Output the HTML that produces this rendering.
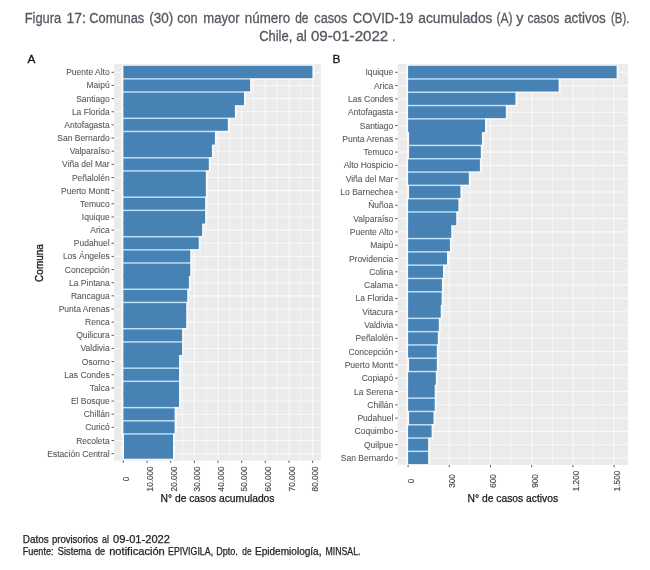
<!DOCTYPE html>
<html lang="es"><head><meta charset="utf-8"><title>Figura 17</title>
<style>html,body{margin:0;padding:0;background:#fff}body{width:650px;height:570px;overflow:hidden}svg{display:block;filter:blur(0.4px)}text{font-family:"Liberation Sans",sans-serif}</style>
</head><body>
<svg width="650" height="570" viewBox="0 0 650 570">
<rect width="650" height="570" fill="#fff"/>
<text y="22.8" font-size="13.8" fill="#555a61" stroke="#555a61" stroke-width="0.3"><tspan x="24.7" textLength="36.5" lengthAdjust="spacingAndGlyphs">Figura</tspan> <tspan x="66.5" textLength="19.3" lengthAdjust="spacingAndGlyphs">17:</tspan> <tspan x="89.2" textLength="55.1" lengthAdjust="spacingAndGlyphs">Comunas</tspan> <tspan x="149.3" textLength="24.0" lengthAdjust="spacingAndGlyphs">(30)</tspan> <tspan x="177.2" textLength="20.5" lengthAdjust="spacingAndGlyphs">con</tspan> <tspan x="203.3" textLength="36.4" lengthAdjust="spacingAndGlyphs">mayor</tspan> <tspan x="244.8" textLength="45.4" lengthAdjust="spacingAndGlyphs">número</tspan> <tspan x="295.2" textLength="13.3" lengthAdjust="spacingAndGlyphs">de</tspan> <tspan x="314.3" textLength="33.1" lengthAdjust="spacingAndGlyphs">casos</tspan> <tspan x="352.8" textLength="60.5" lengthAdjust="spacingAndGlyphs">COVID-19</tspan> <tspan x="418.3" textLength="74.2" lengthAdjust="spacingAndGlyphs">acumulados</tspan> <tspan x="496.5" textLength="16.0" lengthAdjust="spacingAndGlyphs">(A)</tspan> <tspan x="516.3" textLength="7.2" lengthAdjust="spacingAndGlyphs">y</tspan> <tspan x="527.5" textLength="31.7" lengthAdjust="spacingAndGlyphs">casos</tspan> <tspan x="564.2" textLength="41.6" lengthAdjust="spacingAndGlyphs">activos</tspan> <tspan x="611" textLength="18.4" lengthAdjust="spacingAndGlyphs">(B).</tspan></text>
<text y="41" font-size="13.8" fill="#555a61" stroke="#555a61" stroke-width="0.3"><tspan x="259.2" textLength="33.1" lengthAdjust="spacingAndGlyphs">Chile,</tspan> <tspan x="296.2" textLength="10.7" lengthAdjust="spacingAndGlyphs">al</tspan> <tspan x="310.9" textLength="77.4" lengthAdjust="spacingAndGlyphs">09-01-2022</tspan> <tspan x="392.6" textLength="2.5" lengthAdjust="spacingAndGlyphs">.</tspan></text>
<text x="27.5" y="63" font-size="11.8" fill="#111" stroke="#111" stroke-width="0.3">A</text>
<text x="332.5" y="63" font-size="11.8" fill="#111" stroke="#111" stroke-width="0.3">B</text>
<rect x="114.1" y="64.0" width="206.80" height="396.60" fill="#ebebeb"/>
<line x1="135.22" y1="64.0" x2="135.22" y2="460.6" stroke="#fff" stroke-opacity="0.7" stroke-width="0.7"/><line x1="158.88" y1="64.0" x2="158.88" y2="460.6" stroke="#fff" stroke-opacity="0.7" stroke-width="0.7"/><line x1="182.53" y1="64.0" x2="182.53" y2="460.6" stroke="#fff" stroke-opacity="0.7" stroke-width="0.7"/><line x1="206.18" y1="64.0" x2="206.18" y2="460.6" stroke="#fff" stroke-opacity="0.7" stroke-width="0.7"/><line x1="229.82" y1="64.0" x2="229.82" y2="460.6" stroke="#fff" stroke-opacity="0.7" stroke-width="0.7"/><line x1="253.47" y1="64.0" x2="253.47" y2="460.6" stroke="#fff" stroke-opacity="0.7" stroke-width="0.7"/><line x1="277.12" y1="64.0" x2="277.12" y2="460.6" stroke="#fff" stroke-opacity="0.7" stroke-width="0.7"/><line x1="300.77" y1="64.0" x2="300.77" y2="460.6" stroke="#fff" stroke-opacity="0.7" stroke-width="0.7"/><line x1="123.40" y1="64.0" x2="123.40" y2="460.6" stroke="#fff" stroke-opacity="0.7" stroke-width="1.1"/><line x1="147.05" y1="64.0" x2="147.05" y2="460.6" stroke="#fff" stroke-opacity="0.7" stroke-width="1.1"/><line x1="170.70" y1="64.0" x2="170.70" y2="460.6" stroke="#fff" stroke-opacity="0.7" stroke-width="1.1"/><line x1="194.35" y1="64.0" x2="194.35" y2="460.6" stroke="#fff" stroke-opacity="0.7" stroke-width="1.1"/><line x1="218.00" y1="64.0" x2="218.00" y2="460.6" stroke="#fff" stroke-opacity="0.7" stroke-width="1.1"/><line x1="241.65" y1="64.0" x2="241.65" y2="460.6" stroke="#fff" stroke-opacity="0.7" stroke-width="1.1"/><line x1="265.30" y1="64.0" x2="265.30" y2="460.6" stroke="#fff" stroke-opacity="0.7" stroke-width="1.1"/><line x1="288.95" y1="64.0" x2="288.95" y2="460.6" stroke="#fff" stroke-opacity="0.7" stroke-width="1.1"/><line x1="312.60" y1="64.0" x2="312.60" y2="460.6" stroke="#fff" stroke-opacity="0.7" stroke-width="1.1"/><line x1="114.1" y1="72.30" x2="320.9" y2="72.30" stroke="#fff" stroke-opacity="0.7" stroke-width="1.1"/><line x1="114.1" y1="85.45" x2="320.9" y2="85.45" stroke="#fff" stroke-opacity="0.7" stroke-width="1.1"/><line x1="114.1" y1="98.60" x2="320.9" y2="98.60" stroke="#fff" stroke-opacity="0.7" stroke-width="1.1"/><line x1="114.1" y1="111.75" x2="320.9" y2="111.75" stroke="#fff" stroke-opacity="0.7" stroke-width="1.1"/><line x1="114.1" y1="124.90" x2="320.9" y2="124.90" stroke="#fff" stroke-opacity="0.7" stroke-width="1.1"/><line x1="114.1" y1="138.05" x2="320.9" y2="138.05" stroke="#fff" stroke-opacity="0.7" stroke-width="1.1"/><line x1="114.1" y1="151.20" x2="320.9" y2="151.20" stroke="#fff" stroke-opacity="0.7" stroke-width="1.1"/><line x1="114.1" y1="164.35" x2="320.9" y2="164.35" stroke="#fff" stroke-opacity="0.7" stroke-width="1.1"/><line x1="114.1" y1="177.50" x2="320.9" y2="177.50" stroke="#fff" stroke-opacity="0.7" stroke-width="1.1"/><line x1="114.1" y1="190.65" x2="320.9" y2="190.65" stroke="#fff" stroke-opacity="0.7" stroke-width="1.1"/><line x1="114.1" y1="203.80" x2="320.9" y2="203.80" stroke="#fff" stroke-opacity="0.7" stroke-width="1.1"/><line x1="114.1" y1="216.95" x2="320.9" y2="216.95" stroke="#fff" stroke-opacity="0.7" stroke-width="1.1"/><line x1="114.1" y1="230.10" x2="320.9" y2="230.10" stroke="#fff" stroke-opacity="0.7" stroke-width="1.1"/><line x1="114.1" y1="243.25" x2="320.9" y2="243.25" stroke="#fff" stroke-opacity="0.7" stroke-width="1.1"/><line x1="114.1" y1="256.40" x2="320.9" y2="256.40" stroke="#fff" stroke-opacity="0.7" stroke-width="1.1"/><line x1="114.1" y1="269.55" x2="320.9" y2="269.55" stroke="#fff" stroke-opacity="0.7" stroke-width="1.1"/><line x1="114.1" y1="282.70" x2="320.9" y2="282.70" stroke="#fff" stroke-opacity="0.7" stroke-width="1.1"/><line x1="114.1" y1="295.85" x2="320.9" y2="295.85" stroke="#fff" stroke-opacity="0.7" stroke-width="1.1"/><line x1="114.1" y1="309.00" x2="320.9" y2="309.00" stroke="#fff" stroke-opacity="0.7" stroke-width="1.1"/><line x1="114.1" y1="322.15" x2="320.9" y2="322.15" stroke="#fff" stroke-opacity="0.7" stroke-width="1.1"/><line x1="114.1" y1="335.30" x2="320.9" y2="335.30" stroke="#fff" stroke-opacity="0.7" stroke-width="1.1"/><line x1="114.1" y1="348.45" x2="320.9" y2="348.45" stroke="#fff" stroke-opacity="0.7" stroke-width="1.1"/><line x1="114.1" y1="361.60" x2="320.9" y2="361.60" stroke="#fff" stroke-opacity="0.7" stroke-width="1.1"/><line x1="114.1" y1="374.75" x2="320.9" y2="374.75" stroke="#fff" stroke-opacity="0.7" stroke-width="1.1"/><line x1="114.1" y1="387.90" x2="320.9" y2="387.90" stroke="#fff" stroke-opacity="0.7" stroke-width="1.1"/><line x1="114.1" y1="401.05" x2="320.9" y2="401.05" stroke="#fff" stroke-opacity="0.7" stroke-width="1.1"/><line x1="114.1" y1="414.20" x2="320.9" y2="414.20" stroke="#fff" stroke-opacity="0.7" stroke-width="1.1"/><line x1="114.1" y1="427.35" x2="320.9" y2="427.35" stroke="#fff" stroke-opacity="0.7" stroke-width="1.1"/><line x1="114.1" y1="440.50" x2="320.9" y2="440.50" stroke="#fff" stroke-opacity="0.7" stroke-width="1.1"/><line x1="114.1" y1="453.65" x2="320.9" y2="453.65" stroke="#fff" stroke-opacity="0.7" stroke-width="1.1"/>
<rect x="121.20" y="64.80" width="193.40" height="15.08" fill="#fff" fill-opacity="0.55"/><rect x="121.20" y="77.88" width="131.10" height="15.15" fill="#fff" fill-opacity="0.55"/><rect x="121.20" y="91.03" width="125.00" height="15.15" fill="#fff" fill-opacity="0.55"/><rect x="121.20" y="104.17" width="115.90" height="15.15" fill="#fff" fill-opacity="0.55"/><rect x="121.20" y="117.32" width="108.80" height="15.15" fill="#fff" fill-opacity="0.55"/><rect x="121.20" y="130.47" width="95.90" height="15.15" fill="#fff" fill-opacity="0.55"/><rect x="121.20" y="143.62" width="92.90" height="15.15" fill="#fff" fill-opacity="0.55"/><rect x="121.20" y="156.78" width="89.80" height="15.15" fill="#fff" fill-opacity="0.55"/><rect x="121.20" y="169.93" width="86.80" height="15.15" fill="#fff" fill-opacity="0.55"/><rect x="121.20" y="183.07" width="86.80" height="15.15" fill="#fff" fill-opacity="0.55"/><rect x="121.20" y="196.22" width="86.10" height="15.15" fill="#fff" fill-opacity="0.55"/><rect x="121.20" y="209.38" width="86.10" height="15.15" fill="#fff" fill-opacity="0.55"/><rect x="121.20" y="222.52" width="83.10" height="15.15" fill="#fff" fill-opacity="0.55"/><rect x="121.20" y="235.68" width="79.70" height="15.15" fill="#fff" fill-opacity="0.55"/><rect x="121.20" y="248.82" width="71.20" height="15.15" fill="#fff" fill-opacity="0.55"/><rect x="121.20" y="261.98" width="71.20" height="15.15" fill="#fff" fill-opacity="0.55"/><rect x="121.20" y="275.12" width="69.90" height="15.15" fill="#fff" fill-opacity="0.55"/><rect x="121.20" y="288.27" width="68.20" height="15.15" fill="#fff" fill-opacity="0.55"/><rect x="121.20" y="301.43" width="67.20" height="15.15" fill="#fff" fill-opacity="0.55"/><rect x="121.20" y="314.57" width="67.20" height="15.15" fill="#fff" fill-opacity="0.55"/><rect x="121.20" y="327.73" width="63.10" height="15.15" fill="#fff" fill-opacity="0.55"/><rect x="121.20" y="340.88" width="63.10" height="15.15" fill="#fff" fill-opacity="0.55"/><rect x="121.20" y="354.03" width="60.00" height="15.15" fill="#fff" fill-opacity="0.55"/><rect x="121.20" y="367.18" width="60.00" height="15.15" fill="#fff" fill-opacity="0.55"/><rect x="121.20" y="380.33" width="60.00" height="15.15" fill="#fff" fill-opacity="0.55"/><rect x="121.20" y="393.48" width="60.00" height="15.15" fill="#fff" fill-opacity="0.55"/><rect x="121.20" y="406.62" width="55.60" height="15.15" fill="#fff" fill-opacity="0.55"/><rect x="121.20" y="419.78" width="55.60" height="15.15" fill="#fff" fill-opacity="0.55"/><rect x="121.80" y="432.93" width="53.40" height="15.15" fill="#fff" fill-opacity="0.55"/><rect x="121.80" y="446.08" width="53.40" height="13.62" fill="#fff" fill-opacity="0.55"/><rect x="123.40" y="77.86" width="126.70" height="2.04" fill="#c0e1f8"/><rect x="123.40" y="91.01" width="120.60" height="2.04" fill="#c0e1f8"/><rect x="123.40" y="117.30" width="104.40" height="2.04" fill="#c0e1f8"/><rect x="123.40" y="130.45" width="91.50" height="2.04" fill="#c0e1f8"/><rect x="123.40" y="156.75" width="85.40" height="2.04" fill="#c0e1f8"/><rect x="123.40" y="169.91" width="82.40" height="2.04" fill="#c0e1f8"/><rect x="123.40" y="196.20" width="81.70" height="2.04" fill="#c0e1f8"/><rect x="123.40" y="209.35" width="81.70" height="2.04" fill="#c0e1f8"/><rect x="123.40" y="235.66" width="75.30" height="2.04" fill="#c0e1f8"/><rect x="123.40" y="248.80" width="66.80" height="2.04" fill="#c0e1f8"/><rect x="123.40" y="261.95" width="66.80" height="2.04" fill="#c0e1f8"/><rect x="123.40" y="288.25" width="63.80" height="2.04" fill="#c0e1f8"/><rect x="123.40" y="301.40" width="62.80" height="2.04" fill="#c0e1f8"/><rect x="123.40" y="327.70" width="58.70" height="2.04" fill="#c0e1f8"/><rect x="123.40" y="340.85" width="58.70" height="2.04" fill="#c0e1f8"/><rect x="123.40" y="367.15" width="55.60" height="2.04" fill="#c0e1f8"/><rect x="123.40" y="380.31" width="55.60" height="2.04" fill="#c0e1f8"/><rect x="123.40" y="406.60" width="51.20" height="2.04" fill="#c0e1f8"/><rect x="123.40" y="419.75" width="51.20" height="2.04" fill="#c0e1f8"/><rect x="124.00" y="432.90" width="49.00" height="2.04" fill="#c0e1f8"/><rect x="123.40" y="65.80" width="189.00" height="12.36" fill="#4682b4"/><rect x="123.40" y="79.59" width="126.70" height="11.71" fill="#4682b4"/><rect x="123.40" y="92.75" width="120.60" height="12.43" fill="#4682b4"/><rect x="123.40" y="103.88" width="111.50" height="13.73" fill="#4682b4"/><rect x="123.40" y="119.04" width="104.40" height="11.71" fill="#4682b4"/><rect x="123.40" y="132.19" width="91.50" height="12.43" fill="#4682b4"/><rect x="123.40" y="143.32" width="88.50" height="13.73" fill="#4682b4"/><rect x="123.40" y="158.50" width="85.40" height="11.71" fill="#4682b4"/><rect x="123.40" y="171.65" width="82.40" height="12.43" fill="#4682b4"/><rect x="123.40" y="182.77" width="82.40" height="13.73" fill="#4682b4"/><rect x="123.40" y="197.94" width="81.70" height="11.71" fill="#4682b4"/><rect x="123.40" y="211.09" width="81.70" height="12.43" fill="#4682b4"/><rect x="123.40" y="222.22" width="78.70" height="13.73" fill="#4682b4"/><rect x="123.40" y="237.40" width="75.30" height="11.71" fill="#4682b4"/><rect x="123.40" y="250.54" width="66.80" height="11.71" fill="#4682b4"/><rect x="123.40" y="263.70" width="66.80" height="12.43" fill="#4682b4"/><rect x="123.40" y="274.82" width="65.50" height="13.73" fill="#4682b4"/><rect x="123.40" y="290.00" width="63.80" height="11.71" fill="#4682b4"/><rect x="123.40" y="303.15" width="62.80" height="12.43" fill="#4682b4"/><rect x="123.40" y="314.27" width="62.80" height="13.73" fill="#4682b4"/><rect x="123.40" y="329.45" width="58.70" height="11.71" fill="#4682b4"/><rect x="123.40" y="342.60" width="58.70" height="12.43" fill="#4682b4"/><rect x="123.40" y="353.73" width="55.60" height="13.73" fill="#4682b4"/><rect x="123.40" y="368.90" width="55.60" height="11.71" fill="#4682b4"/><rect x="123.40" y="382.05" width="55.60" height="12.43" fill="#4682b4"/><rect x="123.40" y="393.18" width="55.60" height="13.73" fill="#4682b4"/><rect x="123.40" y="408.35" width="51.20" height="11.71" fill="#4682b4"/><rect x="123.40" y="421.50" width="51.20" height="11.71" fill="#4682b4"/><rect x="124.00" y="434.65" width="49.00" height="12.43" fill="#4682b4"/><rect x="124.00" y="445.78" width="49.00" height="12.92" fill="#4682b4"/>
<line x1="111.50" y1="72.30" x2="114.1" y2="72.30" stroke="#3a3a3a" stroke-width="0.8"/><text x="109.70" y="75.30" font-size="8.5" fill="#585858" stroke="#585858" stroke-width="0.08" text-anchor="end">Puente Alto</text><line x1="111.50" y1="85.45" x2="114.1" y2="85.45" stroke="#3a3a3a" stroke-width="0.8"/><text x="109.70" y="88.45" font-size="8.5" fill="#585858" stroke="#585858" stroke-width="0.08" text-anchor="end">Maipú</text><line x1="111.50" y1="98.60" x2="114.1" y2="98.60" stroke="#3a3a3a" stroke-width="0.8"/><text x="109.70" y="101.60" font-size="8.5" fill="#585858" stroke="#585858" stroke-width="0.08" text-anchor="end">Santiago</text><line x1="111.50" y1="111.75" x2="114.1" y2="111.75" stroke="#3a3a3a" stroke-width="0.8"/><text x="109.70" y="114.75" font-size="8.5" fill="#585858" stroke="#585858" stroke-width="0.08" text-anchor="end">La Florida</text><line x1="111.50" y1="124.90" x2="114.1" y2="124.90" stroke="#3a3a3a" stroke-width="0.8"/><text x="109.70" y="127.90" font-size="8.5" fill="#585858" stroke="#585858" stroke-width="0.08" text-anchor="end">Antofagasta</text><line x1="111.50" y1="138.05" x2="114.1" y2="138.05" stroke="#3a3a3a" stroke-width="0.8"/><text x="109.70" y="141.05" font-size="8.5" fill="#585858" stroke="#585858" stroke-width="0.08" text-anchor="end">San Bernardo</text><line x1="111.50" y1="151.20" x2="114.1" y2="151.20" stroke="#3a3a3a" stroke-width="0.8"/><text x="109.70" y="154.20" font-size="8.5" fill="#585858" stroke="#585858" stroke-width="0.08" text-anchor="end">Valparaíso</text><line x1="111.50" y1="164.35" x2="114.1" y2="164.35" stroke="#3a3a3a" stroke-width="0.8"/><text x="109.70" y="167.35" font-size="8.5" fill="#585858" stroke="#585858" stroke-width="0.08" text-anchor="end">Viña del Mar</text><line x1="111.50" y1="177.50" x2="114.1" y2="177.50" stroke="#3a3a3a" stroke-width="0.8"/><text x="109.70" y="180.50" font-size="8.5" fill="#585858" stroke="#585858" stroke-width="0.08" text-anchor="end">Peñalolén</text><line x1="111.50" y1="190.65" x2="114.1" y2="190.65" stroke="#3a3a3a" stroke-width="0.8"/><text x="109.70" y="193.65" font-size="8.5" fill="#585858" stroke="#585858" stroke-width="0.08" text-anchor="end">Puerto Montt</text><line x1="111.50" y1="203.80" x2="114.1" y2="203.80" stroke="#3a3a3a" stroke-width="0.8"/><text x="109.70" y="206.80" font-size="8.5" fill="#585858" stroke="#585858" stroke-width="0.08" text-anchor="end">Temuco</text><line x1="111.50" y1="216.95" x2="114.1" y2="216.95" stroke="#3a3a3a" stroke-width="0.8"/><text x="109.70" y="219.95" font-size="8.5" fill="#585858" stroke="#585858" stroke-width="0.08" text-anchor="end">Iquique</text><line x1="111.50" y1="230.10" x2="114.1" y2="230.10" stroke="#3a3a3a" stroke-width="0.8"/><text x="109.70" y="233.10" font-size="8.5" fill="#585858" stroke="#585858" stroke-width="0.08" text-anchor="end">Arica</text><line x1="111.50" y1="243.25" x2="114.1" y2="243.25" stroke="#3a3a3a" stroke-width="0.8"/><text x="109.70" y="246.25" font-size="8.5" fill="#585858" stroke="#585858" stroke-width="0.08" text-anchor="end">Pudahuel</text><line x1="111.50" y1="256.40" x2="114.1" y2="256.40" stroke="#3a3a3a" stroke-width="0.8"/><text x="109.70" y="259.40" font-size="8.5" fill="#585858" stroke="#585858" stroke-width="0.08" text-anchor="end">Los Ángeles</text><line x1="111.50" y1="269.55" x2="114.1" y2="269.55" stroke="#3a3a3a" stroke-width="0.8"/><text x="109.70" y="272.55" font-size="8.5" fill="#585858" stroke="#585858" stroke-width="0.08" text-anchor="end">Concepción</text><line x1="111.50" y1="282.70" x2="114.1" y2="282.70" stroke="#3a3a3a" stroke-width="0.8"/><text x="109.70" y="285.70" font-size="8.5" fill="#585858" stroke="#585858" stroke-width="0.08" text-anchor="end">La Pintana</text><line x1="111.50" y1="295.85" x2="114.1" y2="295.85" stroke="#3a3a3a" stroke-width="0.8"/><text x="109.70" y="298.85" font-size="8.5" fill="#585858" stroke="#585858" stroke-width="0.08" text-anchor="end">Rancagua</text><line x1="111.50" y1="309.00" x2="114.1" y2="309.00" stroke="#3a3a3a" stroke-width="0.8"/><text x="109.70" y="312.00" font-size="8.5" fill="#585858" stroke="#585858" stroke-width="0.08" text-anchor="end">Punta Arenas</text><line x1="111.50" y1="322.15" x2="114.1" y2="322.15" stroke="#3a3a3a" stroke-width="0.8"/><text x="109.70" y="325.15" font-size="8.5" fill="#585858" stroke="#585858" stroke-width="0.08" text-anchor="end">Renca</text><line x1="111.50" y1="335.30" x2="114.1" y2="335.30" stroke="#3a3a3a" stroke-width="0.8"/><text x="109.70" y="338.30" font-size="8.5" fill="#585858" stroke="#585858" stroke-width="0.08" text-anchor="end">Quilicura</text><line x1="111.50" y1="348.45" x2="114.1" y2="348.45" stroke="#3a3a3a" stroke-width="0.8"/><text x="109.70" y="351.45" font-size="8.5" fill="#585858" stroke="#585858" stroke-width="0.08" text-anchor="end">Valdivia</text><line x1="111.50" y1="361.60" x2="114.1" y2="361.60" stroke="#3a3a3a" stroke-width="0.8"/><text x="109.70" y="364.60" font-size="8.5" fill="#585858" stroke="#585858" stroke-width="0.08" text-anchor="end">Osorno</text><line x1="111.50" y1="374.75" x2="114.1" y2="374.75" stroke="#3a3a3a" stroke-width="0.8"/><text x="109.70" y="377.75" font-size="8.5" fill="#585858" stroke="#585858" stroke-width="0.08" text-anchor="end">Las Condes</text><line x1="111.50" y1="387.90" x2="114.1" y2="387.90" stroke="#3a3a3a" stroke-width="0.8"/><text x="109.70" y="390.90" font-size="8.5" fill="#585858" stroke="#585858" stroke-width="0.08" text-anchor="end">Talca</text><line x1="111.50" y1="401.05" x2="114.1" y2="401.05" stroke="#3a3a3a" stroke-width="0.8"/><text x="109.70" y="404.05" font-size="8.5" fill="#585858" stroke="#585858" stroke-width="0.08" text-anchor="end">El Bosque</text><line x1="111.50" y1="414.20" x2="114.1" y2="414.20" stroke="#3a3a3a" stroke-width="0.8"/><text x="109.70" y="417.20" font-size="8.5" fill="#585858" stroke="#585858" stroke-width="0.08" text-anchor="end">Chillán</text><line x1="111.50" y1="427.35" x2="114.1" y2="427.35" stroke="#3a3a3a" stroke-width="0.8"/><text x="109.70" y="430.35" font-size="8.5" fill="#585858" stroke="#585858" stroke-width="0.08" text-anchor="end">Curicó</text><line x1="111.50" y1="440.50" x2="114.1" y2="440.50" stroke="#3a3a3a" stroke-width="0.8"/><text x="109.70" y="443.50" font-size="8.5" fill="#585858" stroke="#585858" stroke-width="0.08" text-anchor="end">Recoleta</text><line x1="111.50" y1="453.65" x2="114.1" y2="453.65" stroke="#3a3a3a" stroke-width="0.8"/><text x="109.70" y="456.65" font-size="8.5" fill="#585858" stroke="#585858" stroke-width="0.08" text-anchor="end">Estación Central</text>
<line x1="123.40" y1="460.6" x2="123.40" y2="463.00" stroke="#3a3a3a" stroke-width="0.8"/><text transform="translate(129.20,478.90) rotate(-90)" font-size="8.2" fill="#4d4d4d" stroke="#4d4d4d" stroke-width="0.2" text-anchor="middle">0</text><line x1="147.05" y1="460.6" x2="147.05" y2="463.00" stroke="#3a3a3a" stroke-width="0.8"/><text transform="translate(152.85,478.90) rotate(-90)" font-size="8.2" fill="#4d4d4d" stroke="#4d4d4d" stroke-width="0.2" text-anchor="middle">10.000</text><line x1="170.70" y1="460.6" x2="170.70" y2="463.00" stroke="#3a3a3a" stroke-width="0.8"/><text transform="translate(176.50,478.90) rotate(-90)" font-size="8.2" fill="#4d4d4d" stroke="#4d4d4d" stroke-width="0.2" text-anchor="middle">20.000</text><line x1="194.35" y1="460.6" x2="194.35" y2="463.00" stroke="#3a3a3a" stroke-width="0.8"/><text transform="translate(200.15,478.90) rotate(-90)" font-size="8.2" fill="#4d4d4d" stroke="#4d4d4d" stroke-width="0.2" text-anchor="middle">30.000</text><line x1="218.00" y1="460.6" x2="218.00" y2="463.00" stroke="#3a3a3a" stroke-width="0.8"/><text transform="translate(223.80,478.90) rotate(-90)" font-size="8.2" fill="#4d4d4d" stroke="#4d4d4d" stroke-width="0.2" text-anchor="middle">40.000</text><line x1="241.65" y1="460.6" x2="241.65" y2="463.00" stroke="#3a3a3a" stroke-width="0.8"/><text transform="translate(247.45,478.90) rotate(-90)" font-size="8.2" fill="#4d4d4d" stroke="#4d4d4d" stroke-width="0.2" text-anchor="middle">50.000</text><line x1="265.30" y1="460.6" x2="265.30" y2="463.00" stroke="#3a3a3a" stroke-width="0.8"/><text transform="translate(271.10,478.90) rotate(-90)" font-size="8.2" fill="#4d4d4d" stroke="#4d4d4d" stroke-width="0.2" text-anchor="middle">60.000</text><line x1="288.95" y1="460.6" x2="288.95" y2="463.00" stroke="#3a3a3a" stroke-width="0.8"/><text transform="translate(294.75,478.90) rotate(-90)" font-size="8.2" fill="#4d4d4d" stroke="#4d4d4d" stroke-width="0.2" text-anchor="middle">70.000</text><line x1="312.60" y1="460.6" x2="312.60" y2="463.00" stroke="#3a3a3a" stroke-width="0.8"/><text transform="translate(318.40,478.90) rotate(-90)" font-size="8.2" fill="#4d4d4d" stroke="#4d4d4d" stroke-width="0.2" text-anchor="middle">80.000</text>
<text x="217.50" y="501.5" font-size="10.3" fill="#1a1a1a" stroke="#1a1a1a" stroke-width="0.25" text-anchor="middle">N° de casos acumulados</text>
<rect x="397.7" y="64.0" width="230.30" height="400.90" fill="#ebebeb"/>
<line x1="428.70" y1="64.0" x2="428.70" y2="464.9" stroke="#fff" stroke-opacity="0.7" stroke-width="0.7"/><line x1="469.90" y1="64.0" x2="469.90" y2="464.9" stroke="#fff" stroke-opacity="0.7" stroke-width="0.7"/><line x1="511.10" y1="64.0" x2="511.10" y2="464.9" stroke="#fff" stroke-opacity="0.7" stroke-width="0.7"/><line x1="552.30" y1="64.0" x2="552.30" y2="464.9" stroke="#fff" stroke-opacity="0.7" stroke-width="0.7"/><line x1="593.50" y1="64.0" x2="593.50" y2="464.9" stroke="#fff" stroke-opacity="0.7" stroke-width="0.7"/><line x1="408.10" y1="64.0" x2="408.10" y2="464.9" stroke="#fff" stroke-opacity="0.7" stroke-width="1.1"/><line x1="449.30" y1="64.0" x2="449.30" y2="464.9" stroke="#fff" stroke-opacity="0.7" stroke-width="1.1"/><line x1="490.50" y1="64.0" x2="490.50" y2="464.9" stroke="#fff" stroke-opacity="0.7" stroke-width="1.1"/><line x1="531.70" y1="64.0" x2="531.70" y2="464.9" stroke="#fff" stroke-opacity="0.7" stroke-width="1.1"/><line x1="572.90" y1="64.0" x2="572.90" y2="464.9" stroke="#fff" stroke-opacity="0.7" stroke-width="1.1"/><line x1="614.10" y1="64.0" x2="614.10" y2="464.9" stroke="#fff" stroke-opacity="0.7" stroke-width="1.1"/><line x1="397.7" y1="72.30" x2="628.0" y2="72.30" stroke="#fff" stroke-opacity="0.7" stroke-width="1.1"/><line x1="397.7" y1="85.60" x2="628.0" y2="85.60" stroke="#fff" stroke-opacity="0.7" stroke-width="1.1"/><line x1="397.7" y1="98.90" x2="628.0" y2="98.90" stroke="#fff" stroke-opacity="0.7" stroke-width="1.1"/><line x1="397.7" y1="112.20" x2="628.0" y2="112.20" stroke="#fff" stroke-opacity="0.7" stroke-width="1.1"/><line x1="397.7" y1="125.50" x2="628.0" y2="125.50" stroke="#fff" stroke-opacity="0.7" stroke-width="1.1"/><line x1="397.7" y1="138.80" x2="628.0" y2="138.80" stroke="#fff" stroke-opacity="0.7" stroke-width="1.1"/><line x1="397.7" y1="152.10" x2="628.0" y2="152.10" stroke="#fff" stroke-opacity="0.7" stroke-width="1.1"/><line x1="397.7" y1="165.40" x2="628.0" y2="165.40" stroke="#fff" stroke-opacity="0.7" stroke-width="1.1"/><line x1="397.7" y1="178.70" x2="628.0" y2="178.70" stroke="#fff" stroke-opacity="0.7" stroke-width="1.1"/><line x1="397.7" y1="192.00" x2="628.0" y2="192.00" stroke="#fff" stroke-opacity="0.7" stroke-width="1.1"/><line x1="397.7" y1="205.30" x2="628.0" y2="205.30" stroke="#fff" stroke-opacity="0.7" stroke-width="1.1"/><line x1="397.7" y1="218.60" x2="628.0" y2="218.60" stroke="#fff" stroke-opacity="0.7" stroke-width="1.1"/><line x1="397.7" y1="231.90" x2="628.0" y2="231.90" stroke="#fff" stroke-opacity="0.7" stroke-width="1.1"/><line x1="397.7" y1="245.20" x2="628.0" y2="245.20" stroke="#fff" stroke-opacity="0.7" stroke-width="1.1"/><line x1="397.7" y1="258.50" x2="628.0" y2="258.50" stroke="#fff" stroke-opacity="0.7" stroke-width="1.1"/><line x1="397.7" y1="271.80" x2="628.0" y2="271.80" stroke="#fff" stroke-opacity="0.7" stroke-width="1.1"/><line x1="397.7" y1="285.10" x2="628.0" y2="285.10" stroke="#fff" stroke-opacity="0.7" stroke-width="1.1"/><line x1="397.7" y1="298.40" x2="628.0" y2="298.40" stroke="#fff" stroke-opacity="0.7" stroke-width="1.1"/><line x1="397.7" y1="311.70" x2="628.0" y2="311.70" stroke="#fff" stroke-opacity="0.7" stroke-width="1.1"/><line x1="397.7" y1="325.00" x2="628.0" y2="325.00" stroke="#fff" stroke-opacity="0.7" stroke-width="1.1"/><line x1="397.7" y1="338.30" x2="628.0" y2="338.30" stroke="#fff" stroke-opacity="0.7" stroke-width="1.1"/><line x1="397.7" y1="351.60" x2="628.0" y2="351.60" stroke="#fff" stroke-opacity="0.7" stroke-width="1.1"/><line x1="397.7" y1="364.90" x2="628.0" y2="364.90" stroke="#fff" stroke-opacity="0.7" stroke-width="1.1"/><line x1="397.7" y1="378.20" x2="628.0" y2="378.20" stroke="#fff" stroke-opacity="0.7" stroke-width="1.1"/><line x1="397.7" y1="391.50" x2="628.0" y2="391.50" stroke="#fff" stroke-opacity="0.7" stroke-width="1.1"/><line x1="397.7" y1="404.80" x2="628.0" y2="404.80" stroke="#fff" stroke-opacity="0.7" stroke-width="1.1"/><line x1="397.7" y1="418.10" x2="628.0" y2="418.10" stroke="#fff" stroke-opacity="0.7" stroke-width="1.1"/><line x1="397.7" y1="431.40" x2="628.0" y2="431.40" stroke="#fff" stroke-opacity="0.7" stroke-width="1.1"/><line x1="397.7" y1="444.70" x2="628.0" y2="444.70" stroke="#fff" stroke-opacity="0.7" stroke-width="1.1"/><line x1="397.7" y1="458.00" x2="628.0" y2="458.00" stroke="#fff" stroke-opacity="0.7" stroke-width="1.1"/>
<rect x="405.90" y="64.80" width="212.90" height="15.15" fill="#fff" fill-opacity="0.55"/><rect x="405.90" y="77.95" width="154.90" height="15.30" fill="#fff" fill-opacity="0.55"/><rect x="405.90" y="91.25" width="111.70" height="15.30" fill="#fff" fill-opacity="0.55"/><rect x="405.90" y="104.55" width="102.10" height="15.30" fill="#fff" fill-opacity="0.55"/><rect x="405.90" y="117.85" width="81.30" height="15.30" fill="#fff" fill-opacity="0.55"/><rect x="406.90" y="131.15" width="77.20" height="15.30" fill="#fff" fill-opacity="0.55"/><rect x="406.90" y="144.45" width="76.10" height="15.30" fill="#fff" fill-opacity="0.55"/><rect x="405.90" y="157.75" width="76.20" height="15.30" fill="#fff" fill-opacity="0.55"/><rect x="405.90" y="171.05" width="65.10" height="15.30" fill="#fff" fill-opacity="0.55"/><rect x="406.90" y="184.35" width="55.70" height="15.30" fill="#fff" fill-opacity="0.55"/><rect x="405.90" y="197.65" width="54.70" height="15.30" fill="#fff" fill-opacity="0.55"/><rect x="405.90" y="210.95" width="52.50" height="15.30" fill="#fff" fill-opacity="0.55"/><rect x="405.90" y="224.25" width="47.50" height="15.30" fill="#fff" fill-opacity="0.55"/><rect x="405.90" y="237.55" width="46.20" height="15.30" fill="#fff" fill-opacity="0.55"/><rect x="405.90" y="250.85" width="43.30" height="15.30" fill="#fff" fill-opacity="0.55"/><rect x="405.90" y="264.15" width="39.30" height="15.30" fill="#fff" fill-opacity="0.55"/><rect x="405.90" y="277.45" width="38.20" height="15.30" fill="#fff" fill-opacity="0.55"/><rect x="405.90" y="290.75" width="37.90" height="15.30" fill="#fff" fill-opacity="0.55"/><rect x="405.90" y="304.05" width="37.00" height="15.30" fill="#fff" fill-opacity="0.55"/><rect x="405.90" y="317.35" width="35.10" height="15.30" fill="#fff" fill-opacity="0.55"/><rect x="405.90" y="330.65" width="34.10" height="15.30" fill="#fff" fill-opacity="0.55"/><rect x="405.90" y="343.95" width="33.10" height="15.30" fill="#fff" fill-opacity="0.55"/><rect x="406.90" y="357.25" width="32.10" height="15.30" fill="#fff" fill-opacity="0.55"/><rect x="405.90" y="370.55" width="32.10" height="15.30" fill="#fff" fill-opacity="0.55"/><rect x="405.90" y="383.85" width="31.00" height="15.30" fill="#fff" fill-opacity="0.55"/><rect x="405.90" y="397.15" width="31.00" height="15.30" fill="#fff" fill-opacity="0.55"/><rect x="406.90" y="410.45" width="28.80" height="15.30" fill="#fff" fill-opacity="0.55"/><rect x="405.90" y="423.75" width="27.90" height="15.30" fill="#fff" fill-opacity="0.55"/><rect x="405.90" y="437.05" width="24.40" height="15.30" fill="#fff" fill-opacity="0.55"/><rect x="405.90" y="450.35" width="24.40" height="14.75" fill="#fff" fill-opacity="0.55"/><rect x="408.10" y="77.93" width="150.50" height="2.04" fill="#c0e1f8"/><rect x="408.10" y="91.23" width="107.30" height="2.04" fill="#c0e1f8"/><rect x="408.10" y="104.53" width="97.70" height="2.04" fill="#c0e1f8"/><rect x="408.10" y="117.83" width="76.90" height="2.04" fill="#c0e1f8"/><rect x="409.10" y="144.43" width="71.70" height="2.04" fill="#c0e1f8"/><rect x="409.10" y="157.73" width="70.80" height="2.04" fill="#c0e1f8"/><rect x="408.10" y="171.03" width="60.70" height="2.04" fill="#c0e1f8"/><rect x="409.10" y="184.33" width="51.30" height="2.04" fill="#c0e1f8"/><rect x="409.10" y="197.63" width="49.30" height="2.04" fill="#c0e1f8"/><rect x="408.10" y="210.93" width="48.10" height="2.04" fill="#c0e1f8"/><rect x="408.10" y="237.53" width="41.80" height="2.04" fill="#c0e1f8"/><rect x="408.10" y="250.83" width="38.90" height="2.04" fill="#c0e1f8"/><rect x="408.10" y="264.13" width="34.90" height="2.04" fill="#c0e1f8"/><rect x="408.10" y="277.43" width="33.80" height="2.04" fill="#c0e1f8"/><rect x="408.10" y="290.73" width="33.50" height="2.04" fill="#c0e1f8"/><rect x="408.10" y="317.33" width="30.70" height="2.04" fill="#c0e1f8"/><rect x="408.10" y="330.63" width="29.70" height="2.04" fill="#c0e1f8"/><rect x="408.10" y="343.93" width="28.70" height="2.04" fill="#c0e1f8"/><rect x="409.10" y="357.23" width="27.70" height="2.04" fill="#c0e1f8"/><rect x="409.10" y="370.53" width="26.70" height="2.04" fill="#c0e1f8"/><rect x="408.10" y="397.13" width="26.60" height="2.04" fill="#c0e1f8"/><rect x="409.10" y="410.43" width="24.40" height="2.04" fill="#c0e1f8"/><rect x="409.10" y="423.73" width="22.50" height="2.04" fill="#c0e1f8"/><rect x="408.10" y="437.03" width="20.00" height="2.04" fill="#c0e1f8"/><rect x="408.10" y="450.33" width="20.00" height="2.04" fill="#c0e1f8"/><rect x="408.10" y="65.80" width="208.50" height="12.43" fill="#4682b4"/><rect x="408.10" y="79.67" width="150.50" height="11.86" fill="#4682b4"/><rect x="408.10" y="92.97" width="107.30" height="11.86" fill="#4682b4"/><rect x="408.10" y="106.27" width="97.70" height="11.86" fill="#4682b4"/><rect x="408.10" y="119.57" width="76.90" height="12.58" fill="#4682b4"/><rect x="409.10" y="130.85" width="72.80" height="13.88" fill="#4682b4"/><rect x="409.10" y="146.17" width="71.70" height="11.86" fill="#4682b4"/><rect x="408.10" y="159.47" width="71.80" height="11.86" fill="#4682b4"/><rect x="408.10" y="172.77" width="60.70" height="11.86" fill="#4682b4"/><rect x="409.10" y="186.07" width="51.30" height="11.86" fill="#4682b4"/><rect x="408.10" y="199.37" width="50.30" height="11.86" fill="#4682b4"/><rect x="408.10" y="212.67" width="48.10" height="12.58" fill="#4682b4"/><rect x="408.10" y="223.95" width="43.10" height="13.88" fill="#4682b4"/><rect x="408.10" y="239.27" width="41.80" height="11.86" fill="#4682b4"/><rect x="408.10" y="252.57" width="38.90" height="11.86" fill="#4682b4"/><rect x="408.10" y="265.87" width="34.90" height="11.86" fill="#4682b4"/><rect x="408.10" y="279.17" width="33.80" height="11.86" fill="#4682b4"/><rect x="408.10" y="292.47" width="33.50" height="12.58" fill="#4682b4"/><rect x="408.10" y="303.75" width="32.60" height="13.88" fill="#4682b4"/><rect x="408.10" y="319.07" width="30.70" height="11.86" fill="#4682b4"/><rect x="408.10" y="332.37" width="29.70" height="11.86" fill="#4682b4"/><rect x="408.10" y="345.67" width="28.70" height="11.86" fill="#4682b4"/><rect x="409.10" y="358.97" width="27.70" height="11.86" fill="#4682b4"/><rect x="408.10" y="372.27" width="27.70" height="12.58" fill="#4682b4"/><rect x="408.10" y="383.55" width="26.60" height="13.88" fill="#4682b4"/><rect x="408.10" y="398.87" width="26.60" height="11.86" fill="#4682b4"/><rect x="409.10" y="412.17" width="24.40" height="11.86" fill="#4682b4"/><rect x="408.10" y="425.47" width="23.50" height="11.86" fill="#4682b4"/><rect x="408.10" y="438.77" width="20.00" height="11.86" fill="#4682b4"/><rect x="408.10" y="452.07" width="20.00" height="12.03" fill="#4682b4"/>
<line x1="395.10" y1="72.30" x2="397.7" y2="72.30" stroke="#3a3a3a" stroke-width="0.8"/><text x="393.30" y="75.30" font-size="8.5" fill="#585858" stroke="#585858" stroke-width="0.08" text-anchor="end">Iquique</text><line x1="395.10" y1="85.60" x2="397.7" y2="85.60" stroke="#3a3a3a" stroke-width="0.8"/><text x="393.30" y="88.60" font-size="8.5" fill="#585858" stroke="#585858" stroke-width="0.08" text-anchor="end">Arica</text><line x1="395.10" y1="98.90" x2="397.7" y2="98.90" stroke="#3a3a3a" stroke-width="0.8"/><text x="393.30" y="101.90" font-size="8.5" fill="#585858" stroke="#585858" stroke-width="0.08" text-anchor="end">Las Condes</text><line x1="395.10" y1="112.20" x2="397.7" y2="112.20" stroke="#3a3a3a" stroke-width="0.8"/><text x="393.30" y="115.20" font-size="8.5" fill="#585858" stroke="#585858" stroke-width="0.08" text-anchor="end">Antofagasta</text><line x1="395.10" y1="125.50" x2="397.7" y2="125.50" stroke="#3a3a3a" stroke-width="0.8"/><text x="393.30" y="128.50" font-size="8.5" fill="#585858" stroke="#585858" stroke-width="0.08" text-anchor="end">Santiago</text><line x1="395.10" y1="138.80" x2="397.7" y2="138.80" stroke="#3a3a3a" stroke-width="0.8"/><text x="393.30" y="141.80" font-size="8.5" fill="#585858" stroke="#585858" stroke-width="0.08" text-anchor="end">Punta Arenas</text><line x1="395.10" y1="152.10" x2="397.7" y2="152.10" stroke="#3a3a3a" stroke-width="0.8"/><text x="393.30" y="155.10" font-size="8.5" fill="#585858" stroke="#585858" stroke-width="0.08" text-anchor="end">Temuco</text><line x1="395.10" y1="165.40" x2="397.7" y2="165.40" stroke="#3a3a3a" stroke-width="0.8"/><text x="393.30" y="168.40" font-size="8.5" fill="#585858" stroke="#585858" stroke-width="0.08" text-anchor="end">Alto Hospicio</text><line x1="395.10" y1="178.70" x2="397.7" y2="178.70" stroke="#3a3a3a" stroke-width="0.8"/><text x="393.30" y="181.70" font-size="8.5" fill="#585858" stroke="#585858" stroke-width="0.08" text-anchor="end">Viña del Mar</text><line x1="395.10" y1="192.00" x2="397.7" y2="192.00" stroke="#3a3a3a" stroke-width="0.8"/><text x="393.30" y="195.00" font-size="8.5" fill="#585858" stroke="#585858" stroke-width="0.08" text-anchor="end">Lo Barnechea</text><line x1="395.10" y1="205.30" x2="397.7" y2="205.30" stroke="#3a3a3a" stroke-width="0.8"/><text x="393.30" y="208.30" font-size="8.5" fill="#585858" stroke="#585858" stroke-width="0.08" text-anchor="end">Ñuñoa</text><line x1="395.10" y1="218.60" x2="397.7" y2="218.60" stroke="#3a3a3a" stroke-width="0.8"/><text x="393.30" y="221.60" font-size="8.5" fill="#585858" stroke="#585858" stroke-width="0.08" text-anchor="end">Valparaíso</text><line x1="395.10" y1="231.90" x2="397.7" y2="231.90" stroke="#3a3a3a" stroke-width="0.8"/><text x="393.30" y="234.90" font-size="8.5" fill="#585858" stroke="#585858" stroke-width="0.08" text-anchor="end">Puente Alto</text><line x1="395.10" y1="245.20" x2="397.7" y2="245.20" stroke="#3a3a3a" stroke-width="0.8"/><text x="393.30" y="248.20" font-size="8.5" fill="#585858" stroke="#585858" stroke-width="0.08" text-anchor="end">Maipú</text><line x1="395.10" y1="258.50" x2="397.7" y2="258.50" stroke="#3a3a3a" stroke-width="0.8"/><text x="393.30" y="261.50" font-size="8.5" fill="#585858" stroke="#585858" stroke-width="0.08" text-anchor="end">Providencia</text><line x1="395.10" y1="271.80" x2="397.7" y2="271.80" stroke="#3a3a3a" stroke-width="0.8"/><text x="393.30" y="274.80" font-size="8.5" fill="#585858" stroke="#585858" stroke-width="0.08" text-anchor="end">Colina</text><line x1="395.10" y1="285.10" x2="397.7" y2="285.10" stroke="#3a3a3a" stroke-width="0.8"/><text x="393.30" y="288.10" font-size="8.5" fill="#585858" stroke="#585858" stroke-width="0.08" text-anchor="end">Calama</text><line x1="395.10" y1="298.40" x2="397.7" y2="298.40" stroke="#3a3a3a" stroke-width="0.8"/><text x="393.30" y="301.40" font-size="8.5" fill="#585858" stroke="#585858" stroke-width="0.08" text-anchor="end">La Florida</text><line x1="395.10" y1="311.70" x2="397.7" y2="311.70" stroke="#3a3a3a" stroke-width="0.8"/><text x="393.30" y="314.70" font-size="8.5" fill="#585858" stroke="#585858" stroke-width="0.08" text-anchor="end">Vitacura</text><line x1="395.10" y1="325.00" x2="397.7" y2="325.00" stroke="#3a3a3a" stroke-width="0.8"/><text x="393.30" y="328.00" font-size="8.5" fill="#585858" stroke="#585858" stroke-width="0.08" text-anchor="end">Valdivia</text><line x1="395.10" y1="338.30" x2="397.7" y2="338.30" stroke="#3a3a3a" stroke-width="0.8"/><text x="393.30" y="341.30" font-size="8.5" fill="#585858" stroke="#585858" stroke-width="0.08" text-anchor="end">Peñalolén</text><line x1="395.10" y1="351.60" x2="397.7" y2="351.60" stroke="#3a3a3a" stroke-width="0.8"/><text x="393.30" y="354.60" font-size="8.5" fill="#585858" stroke="#585858" stroke-width="0.08" text-anchor="end">Concepción</text><line x1="395.10" y1="364.90" x2="397.7" y2="364.90" stroke="#3a3a3a" stroke-width="0.8"/><text x="393.30" y="367.90" font-size="8.5" fill="#585858" stroke="#585858" stroke-width="0.08" text-anchor="end">Puerto Montt</text><line x1="395.10" y1="378.20" x2="397.7" y2="378.20" stroke="#3a3a3a" stroke-width="0.8"/><text x="393.30" y="381.20" font-size="8.5" fill="#585858" stroke="#585858" stroke-width="0.08" text-anchor="end">Copiapó</text><line x1="395.10" y1="391.50" x2="397.7" y2="391.50" stroke="#3a3a3a" stroke-width="0.8"/><text x="393.30" y="394.50" font-size="8.5" fill="#585858" stroke="#585858" stroke-width="0.08" text-anchor="end">La Serena</text><line x1="395.10" y1="404.80" x2="397.7" y2="404.80" stroke="#3a3a3a" stroke-width="0.8"/><text x="393.30" y="407.80" font-size="8.5" fill="#585858" stroke="#585858" stroke-width="0.08" text-anchor="end">Chillán</text><line x1="395.10" y1="418.10" x2="397.7" y2="418.10" stroke="#3a3a3a" stroke-width="0.8"/><text x="393.30" y="421.10" font-size="8.5" fill="#585858" stroke="#585858" stroke-width="0.08" text-anchor="end">Pudahuel</text><line x1="395.10" y1="431.40" x2="397.7" y2="431.40" stroke="#3a3a3a" stroke-width="0.8"/><text x="393.30" y="434.40" font-size="8.5" fill="#585858" stroke="#585858" stroke-width="0.08" text-anchor="end">Coquimbo</text><line x1="395.10" y1="444.70" x2="397.7" y2="444.70" stroke="#3a3a3a" stroke-width="0.8"/><text x="393.30" y="447.70" font-size="8.5" fill="#585858" stroke="#585858" stroke-width="0.08" text-anchor="end">Quilpue</text><line x1="395.10" y1="458.00" x2="397.7" y2="458.00" stroke="#3a3a3a" stroke-width="0.8"/><text x="393.30" y="461.00" font-size="8.5" fill="#585858" stroke="#585858" stroke-width="0.08" text-anchor="end">San Bernardo</text>
<line x1="408.10" y1="464.9" x2="408.10" y2="467.30" stroke="#3a3a3a" stroke-width="0.8"/><text transform="translate(413.90,481.00) rotate(-90)" font-size="8.2" fill="#4d4d4d" stroke="#4d4d4d" stroke-width="0.2" text-anchor="middle">0</text><line x1="449.30" y1="464.9" x2="449.30" y2="467.30" stroke="#3a3a3a" stroke-width="0.8"/><text transform="translate(455.10,481.00) rotate(-90)" font-size="8.2" fill="#4d4d4d" stroke="#4d4d4d" stroke-width="0.2" text-anchor="middle">300</text><line x1="490.50" y1="464.9" x2="490.50" y2="467.30" stroke="#3a3a3a" stroke-width="0.8"/><text transform="translate(496.30,481.00) rotate(-90)" font-size="8.2" fill="#4d4d4d" stroke="#4d4d4d" stroke-width="0.2" text-anchor="middle">600</text><line x1="531.70" y1="464.9" x2="531.70" y2="467.30" stroke="#3a3a3a" stroke-width="0.8"/><text transform="translate(537.50,481.00) rotate(-90)" font-size="8.2" fill="#4d4d4d" stroke="#4d4d4d" stroke-width="0.2" text-anchor="middle">900</text><line x1="572.90" y1="464.9" x2="572.90" y2="467.30" stroke="#3a3a3a" stroke-width="0.8"/><text transform="translate(578.70,481.00) rotate(-90)" font-size="8.2" fill="#4d4d4d" stroke="#4d4d4d" stroke-width="0.2" text-anchor="middle">1.200</text><line x1="614.10" y1="464.9" x2="614.10" y2="467.30" stroke="#3a3a3a" stroke-width="0.8"/><text transform="translate(619.90,481.00) rotate(-90)" font-size="8.2" fill="#4d4d4d" stroke="#4d4d4d" stroke-width="0.2" text-anchor="middle">1.500</text>
<text x="512.85" y="501.5" font-size="10.3" fill="#1a1a1a" stroke="#1a1a1a" stroke-width="0.25" text-anchor="middle">N° de casos activos</text>
<text transform="translate(43.1,263) rotate(-90)" font-size="10" fill="#1a1a1a" stroke="#1a1a1a" stroke-width="0.35" text-anchor="middle">Comuna</text>
<text y="543.4" font-size="10.3" fill="#222" stroke="#222" stroke-width="0.25"><tspan x="22.7" textLength="26.1" lengthAdjust="spacingAndGlyphs">Datos</tspan> <tspan x="51.9" textLength="46.2" lengthAdjust="spacingAndGlyphs">provisorios</tspan> <tspan x="102" textLength="6.9" lengthAdjust="spacingAndGlyphs">al</tspan> <tspan x="113.1" textLength="56.9" lengthAdjust="spacingAndGlyphs">09-01-2022</tspan></text>
<text y="555.3" font-size="10.3" fill="#222" stroke="#222" stroke-width="0.25"><tspan x="22.7" textLength="30.8" lengthAdjust="spacingAndGlyphs">Fuente:</tspan> <tspan x="57.8" textLength="33.4" lengthAdjust="spacingAndGlyphs">Sistema</tspan> <tspan x="95" textLength="10.2" lengthAdjust="spacingAndGlyphs">de</tspan> <tspan x="109.2" textLength="55.6" lengthAdjust="spacingAndGlyphs">notificación</tspan> <tspan x="168" textLength="45.1" lengthAdjust="spacingAndGlyphs">EPIVIGILA,</tspan> <tspan x="216.2" textLength="21.5" lengthAdjust="spacingAndGlyphs">Dpto.</tspan> <tspan x="242.3" textLength="9.2" lengthAdjust="spacingAndGlyphs">de</tspan> <tspan x="255" textLength="66.5" lengthAdjust="spacingAndGlyphs">Epidemiología,</tspan> <tspan x="325.4" textLength="35.1" lengthAdjust="spacingAndGlyphs">MINSAL.</tspan></text>
</svg></body></html>
